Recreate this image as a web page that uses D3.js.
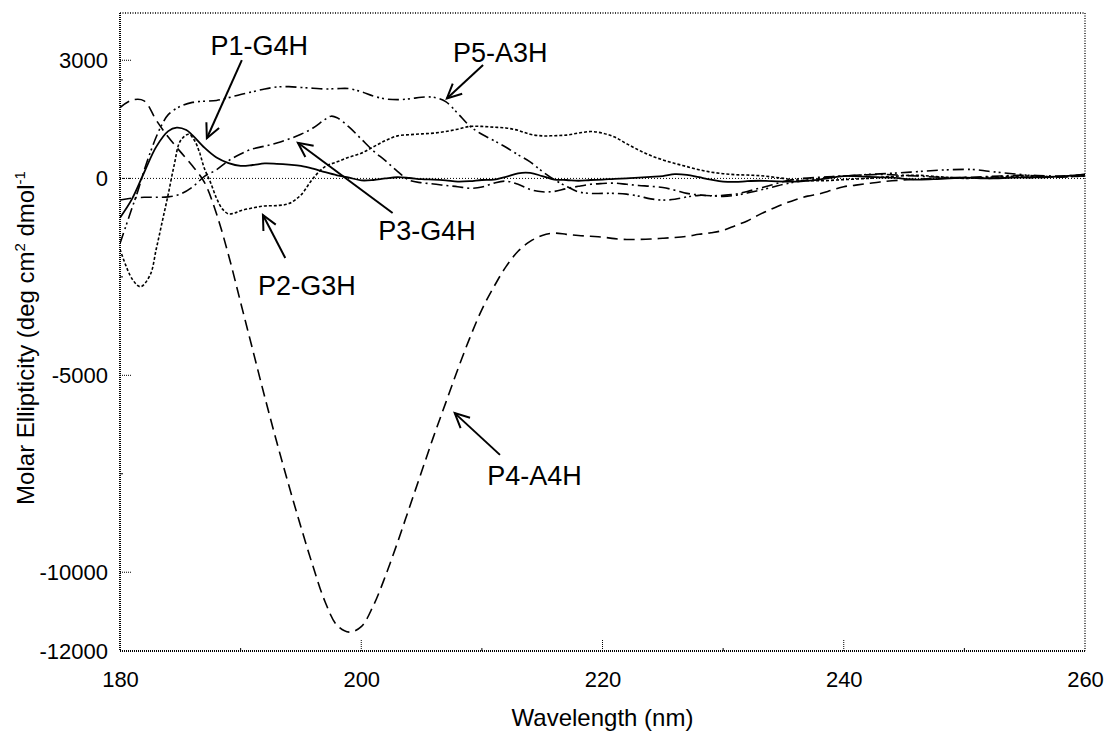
<!DOCTYPE html>
<html lang="en">
<head>
<meta charset="utf-8">
<title>CD spectra</title>
<script src="https://cdn.jsdelivr.net/npm/d3@7/dist/d3.min.js"></script>
<style>
  body { margin: 0; background: #fff; }
  text { font-family: "Liberation Sans", Arial, sans-serif; fill: #000; }
</style>
</head>
<body>
<svg width="1104" height="740"></svg>
<script>
// wavelength (nm), molar ellipticity
var p1 = [[180,-1000],[181,-520],[182,150],[183,800],[184,1200],[184.7,1290],[185.5,1230],[186,1100],[187,780],[188,530],[189,390],[190,320],[191,340],[192,380],[193,370],[194,350],[195,320],[196,250],[197,160],[198,80],[199,20],[200,-50],[201,-40],[202,0],[203,30],[204,10],[205,-20],[206,-30],[207,-50],[208,-80],[209,-70],[210,-40],[211,-30],[212,40],[213,130],[214,140],[215,60],[216,-30],[217,-40],[218,-60],[219,-40],[220,-30],[221,-10],[222,0],[223,20],[224,40],[225,60],[226,110],[227,90],[228,30],[229,-30],[230,-80],[231,-90],[232,-70],[233,-60],[234,-70],[236,-80],[238,-30],[240,60],[242,40],[244,20],[246,-30],[248,-10],[250,20],[252,0],[254,20],[256,30],[258,50],[260,100]];
var p2 = [[180,-1800],[181,-2550],[181.7,-2750],[182.5,-2450],[183,-1800],[183.5,-1100],[184,-400],[184.5,350],[185,950],[185.7,1120],[186.2,950],[186.6,650],[187,250],[187.5,-100],[188,-500],[188.5,-780],[189,-900],[189.5,-880],[190,-820],[191,-750],[192,-700],[193,-690],[194,-640],[195,-420],[196,0],[197,300],[198,420],[199,540],[200,640],[201,800],[202,960],[203,1080],[204,1110],[205,1130],[206,1150],[207,1190],[208,1250],[209,1320],[210,1320],[211,1300],[212,1280],[213,1220],[214,1120],[215,1080],[216,1085],[217,1100],[218,1150],[219,1190],[220,1150],[221,1050],[222,880],[223,720],[224,580],[225,470],[226,380],[227,300],[228,220],[229,160],[230,120],[231,95],[232,85],[233,70],[234,40],[235,0],[236,-40],[238,-60],[240,-30],[242,0],[244,50],[246,80],[248,40],[250,0],[252,30],[255,60],[258,40],[260,80]];
var p3 = [[180,-550],[181,-500],[182,-480],[183,-480],[184,-470],[185,-400],[186,-220],[187,50],[188,220],[189,450],[190,620],[191,750],[192,820],[193,900],[194,1000],[195,1120],[196,1280],[197,1500],[197.5,1580],[198,1540],[199,1300],[200,1000],[201,700],[202,450],[203,180],[204,-50],[205,-110],[206,-140],[207,-180],[208,-210],[209,-250],[210,-220],[211,-120],[212,-70],[213,-150],[214,-280],[215,-340],[216,-330],[217,-260],[218,-200],[219,-150],[220,-130],[221,-120],[222,-150],[223,-180],[224,-200],[225,-230],[226,-300],[227,-380],[228,-420],[229,-440],[230,-430],[231,-400],[232,-330],[233,-250],[234,-170],[235,-80],[236,-20],[238,30],[240,60],[243,100],[246,60],[249,20],[252,50],[255,80],[258,60],[260,100]];
var p4 = [[180,1800],[181,1990],[182,1970],[183,1480],[184,1050],[185,680],[186,320],[187,-100],[188,-900],[189,-1950],[190,-3150],[191,-4350],[192,-5550],[193,-6700],[194,-7800],[195,-8850],[196,-9850],[197,-10750],[198,-11350],[199,-11520],[200,-11380],[201,-10850],[202,-10100],[203,-9250],[204,-8350],[205,-7450],[206,-6550],[207,-5700],[208,-4850],[209,-4050],[210,-3330],[211,-2750],[212,-2240],[213,-1850],[214,-1600],[215,-1450],[216,-1390],[217,-1420],[218,-1450],[219,-1470],[220,-1490],[221,-1530],[222,-1550],[223,-1550],[224,-1540],[225,-1520],[226,-1500],[227,-1470],[228,-1420],[229,-1380],[230,-1320],[231,-1200],[232,-1080],[233,-920],[234,-780],[235,-650],[236,-540],[237,-450],[238,-390],[239,-300],[240,-210],[241,-170],[242,-130],[243,-90],[244,-60],[246,-20],[248,0],[250,20],[252,0],[254,30],[256,20],[258,40],[260,60]];
var p5 = [[180,-1650],[180.5,-1200],[181,-750],[181.5,-300],[182,200],[182.5,650],[183,1050],[183.5,1380],[184,1620],[185,1830],[186,1930],[187,1960],[188,1980],[189,2050],[190,2130],[191,2200],[192,2270],[193,2320],[194,2330],[195,2310],[196,2290],[197,2270],[198,2280],[199,2280],[200,2200],[201,2090],[202,2020],[203,2000],[204,2020],[205,2060],[206,2060],[207,1950],[208,1650],[209,1330],[210,1120],[211,960],[212,790],[213,600],[214,420],[215,180],[216,-30],[217,-200],[218,-340],[219,-380],[220,-380],[221,-380],[222,-400],[223,-450],[224,-520],[225,-550],[226,-530],[227,-470],[228,-430],[229,-440],[230,-460],[231,-430],[232,-370],[233,-300],[234,-230],[235,-150],[236,-90],[237,-40],[238,0],[239,40],[240,60],[242,100],[244,130],[246,170],[248,210],[250,230],[251,220],[252,180],[254,120],[256,60],[258,40],[260,60]];

var series = [p1, p2, p3, p4, p5];
var dashes = ["none", "3,2", "11,4,2,4", "11,6", "11,4,2,3,2,4"];

var labels = ["P1-G4H", "P5-A3H", "P3-G4H", "P2-G3H", "P4-A4H"];
var labelAt = [[187.5,3130],[207.6,2960],[201.4,-1560],[191.45,-2960],[210.45,-7790]];
var arrowFrom = [[190.1,3005],[210.1,2880],[202.6,-880],[193.7,-2020],[211.5,-7020]];
var arrowTo = [[187.2,1020],[207.1,2030],[194.75,905],[191.85,-930],[207.75,-5960]];

var xTicks = [180, 200, 220, 240, 260];
var xMinor = [190, 210, 230, 250];
var yTicks = [3000, 0, -5000, -10000, -12000];
var yMinor = [2500, -2500, -7500];

var pL = 120, pR = 1085, pT = 13, pB = 651;

var svg = d3.select("svg");

var x = d3.scaleLinear().domain([180, 260]).range([pL, pR]);
var y = d3.scaleLinear().domain([-12000, 4200]).range([pB, pT]);

// zero line
svg.append("line")
    .attr("x1", pL).attr("x2", pR)
    .attr("y1", y(0)).attr("y2", y(0))
    .attr("stroke", "#000").attr("stroke-width", 1)
    .attr("stroke-dasharray", "1,2");

// frame
svg.append("line").attr("x1", pL).attr("x2", pR).attr("y1", pT).attr("y2", pT)
    .attr("stroke", "#000").attr("stroke-width", 1.3).attr("stroke-dasharray", "1,1.5");
svg.append("line").attr("x1", pR).attr("x2", pR).attr("y1", pT).attr("y2", pB)
    .attr("stroke", "#000").attr("stroke-width", 1.3).attr("stroke-dasharray", "1,1.5");
svg.append("line").attr("x1", pL).attr("x2", pL).attr("y1", pT).attr("y2", pB)
    .attr("stroke", "#000").attr("stroke-width", 2).attr("stroke-dasharray", "1,1");
svg.append("line").attr("x1", pL).attr("x2", pR).attr("y1", pB).attr("y2", pB)
    .attr("stroke", "#000").attr("stroke-width", 2).attr("stroke-dasharray", "1,1");

// tick marks (inward, dotted)
svg.selectAll(".ytick").data(yTicks.filter(function(d) { return d > -12000; }))
    .enter().append("line")
    .attr("x1", pL).attr("x2", pL + 12)
    .attr("y1", function(d) { return y(d); }).attr("y2", function(d) { return y(d); })
    .attr("stroke", "#000").attr("stroke-dasharray", "1,1");
svg.selectAll(".yminor").data(yMinor)
    .enter().append("line")
    .attr("x1", pL).attr("x2", pL + 3)
    .attr("y1", function(d) { return y(d); }).attr("y2", function(d) { return y(d); })
    .attr("stroke", "#000");
svg.selectAll(".xtick").data(xTicks.slice(1, 4))
    .enter().append("line")
    .attr("x1", function(d) { return x(d); }).attr("x2", function(d) { return x(d); })
    .attr("y1", pB).attr("y2", pB - 12)
    .attr("stroke", "#000").attr("stroke-dasharray", "1,1");
svg.selectAll(".xminor").data(xMinor)
    .enter().append("line")
    .attr("x1", function(d) { return x(d); }).attr("x2", function(d) { return x(d); })
    .attr("y1", pB).attr("y2", pB - 3)
    .attr("stroke", "#000");

// axis labels via d3 axes
var xAxis = d3.axisBottom(x).tickValues(xTicks).tickSize(0).tickPadding(20)
    .tickFormat(function(d) { return String(d); });
var yAxis = d3.axisLeft(y).tickValues(yTicks).tickSize(0).tickPadding(12)
    .tickFormat(function(d) { return String(d); });

var gx = svg.append("g").attr("transform", "translate(0," + pB + ")").call(xAxis);
var gy = svg.append("g").attr("transform", "translate(" + pL + ",0)").call(yAxis);
[gx, gy].forEach(function(g) {
    g.select(".domain").remove();
    g.selectAll("text").attr("font-size", "22px")
        .attr("font-family", "'Liberation Sans', Arial, sans-serif").attr("fill", "#000");
});

// titles
svg.append("text")
    .attr("x", (pL + pR) / 2).attr("y", 726)
    .attr("text-anchor", "middle").attr("font-size", "24px")
    .text("Wavelength (nm)");

var yt = svg.append("text")
    .attr("transform", "translate(34," + ((pT + pB) / 2 + 6) + ") rotate(-90)")
    .attr("text-anchor", "middle").attr("font-size", "24px");
yt.append("tspan").text("Molar Ellipticity (deg cm");
yt.append("tspan").attr("font-size", "15px").attr("dy", -9).text("2");
yt.append("tspan").attr("dy", 9).text(" dmol");
yt.append("tspan").attr("font-size", "15px").attr("dy", -9).text("-1");

// curves
var line = d3.line()
    .x(function(d) { return x(d[0]); })
    .y(function(d) { return y(d[1]); })
    .curve(d3.curveCatmullRom.alpha(0.5));

svg.append("defs").append("clipPath").attr("id", "clip")
    .append("rect").attr("x", pL).attr("y", pT)
    .attr("width", pR - pL).attr("height", pB - pT);

svg.append("g").attr("clip-path", "url(#clip)")
    .selectAll("path").data(series).enter().append("path")
    .attr("d", line)
    .attr("fill", "none")
    .attr("stroke", "#000")
    .attr("stroke-width", function(d, i) { return i === 0 ? 1.8 : 1.6; })
    .attr("stroke-dasharray", function(d, i) { return dashes[i]; });

// annotations
svg.selectAll(".lab").data(labels).enter().append("text")
    .attr("x", function(d, i) { return x(labelAt[i][0]); })
    .attr("y", function(d, i) { return y(labelAt[i][1]); })
    .attr("font-size", "27px")
    .text(function(d) { return d; });

labels.forEach(function(d, i) {
    var x1 = x(arrowFrom[i][0]), y1 = y(arrowFrom[i][1]);
    var x2 = x(arrowTo[i][0]), y2 = y(arrowTo[i][1]);
    var a = Math.atan2(y2 - y1, x2 - x1);
    var len = 16, spread = 0.45;
    svg.append("line")
        .attr("x1", x1).attr("y1", y1).attr("x2", x2).attr("y2", y2)
        .attr("stroke", "#000").attr("stroke-width", 2);
    svg.append("path")
        .attr("d", "M" + (x2 - len * Math.cos(a - spread)) + "," + (y2 - len * Math.sin(a - spread)) +
            "L" + x2 + "," + y2 +
            "L" + (x2 - len * Math.cos(a + spread)) + "," + (y2 - len * Math.sin(a + spread)))
        .attr("fill", "none").attr("stroke", "#000").attr("stroke-width", 2);
});
</script>
</body>
</html>
